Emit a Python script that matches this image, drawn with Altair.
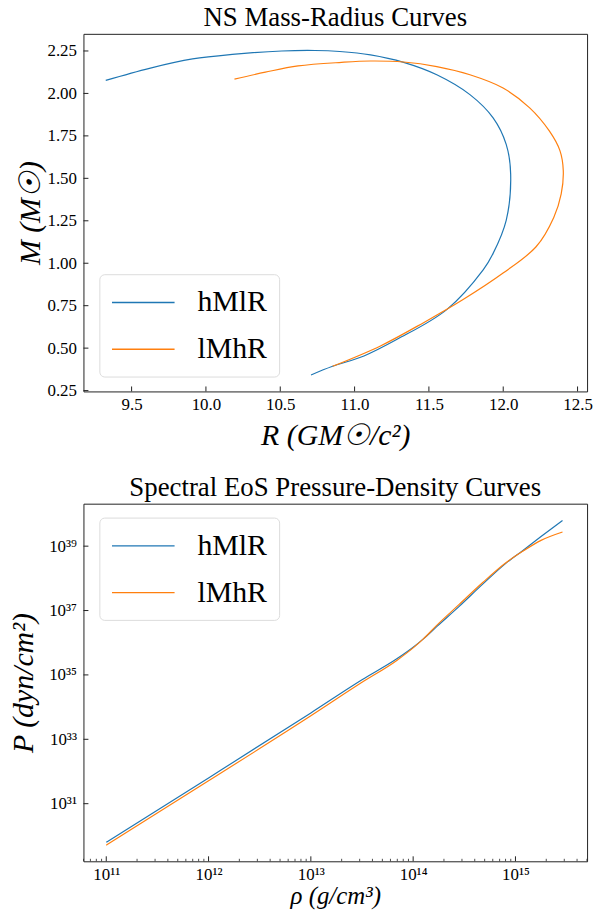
import altair as alt
import pandas as pd

FONT = "Liberation Serif"
series_names = ["hMlR", "lMhR"]
series_colors = ["#1f77b4", "#ff7f0e"]

# ---- Mass-radius curves (R in GM_sun/c^2, M in M_sun)
hMlR_R = [9.326, 9.62, 9.91, 10.177, 10.51, 10.733, 10.90, 11.107, 11.33, 11.553,
          11.776, 11.932, 12.02, 12.05, 12.02, 11.932, 11.865, 11.62, 11.286,
          11.063, 10.852, 10.707]
hMlR_M = [2.077, 2.148, 2.203, 2.230, 2.250, 2.253, 2.247, 2.227, 2.183, 2.110,
          1.993, 1.856, 1.700, 1.526, 1.253, 1.058, 0.961, 0.727, 0.552,
          0.454, 0.393, 0.342]
lMhR_R = [10.192, 10.40, 10.62, 10.912, 11.107, 11.33, 11.553, 11.776, 11.999, 12.178,
          12.31, 12.382, 12.404, 12.39, 12.34, 12.221, 11.999, 11.73, 11.464,
          11.174, 10.852]
lMhR_M = [2.084, 2.125, 2.162, 2.183, 2.191, 2.185, 2.158, 2.110, 2.032, 1.915,
          1.779, 1.662, 1.545, 1.409, 1.270, 1.097, 0.942, 0.786, 0.650,
          0.513, 0.393]

# ---- Pressure-density curves (log10 values)
hMlR_logrho = [11.0, 12.0, 13.0, 13.5, 13.84, 14.0, 14.1, 14.23, 14.45, 14.68, 14.9, 15.07, 15.25, 15.46]
hMlR_logP = [29.80, 31.80, 33.82, 34.85, 35.50, 35.86, 36.12, 36.50, 37.13, 37.82, 38.45, 38.86, 39.30, 39.80]
lMhR_logrho = [11.0, 12.0, 13.0, 13.5, 13.84, 14.0, 14.1, 14.23, 14.45, 14.68, 14.9, 15.07, 15.25, 15.46]
lMhR_logP = [29.71, 31.71, 33.73, 34.77, 35.45, 35.84, 36.12, 36.54, 37.19, 37.87, 38.47, 38.84, 39.18, 39.44]

# axis ticks
mr_x_ticks = [9.5, 10.0, 10.5, 11.0, 11.5, 12.0, 12.5]
mr_y_ticks = [0.25, 0.5, 0.75, 1.0, 1.25, 1.5, 1.75, 2.0, 2.25]
rho_major_exp = [11, 12, 13, 14, 15]
p_major_exp = [31, 33, 35, 37, 39]
sup_map = {"0": "⁰", "1": "¹", "2": "²", "3": "³", "4": "⁴", "5": "⁵", "6": "⁶", "7": "⁷", "8": "⁸", "9": "⁹"}

W, H = 507, 360

def sup(n):
    return "10" + "".join(sup_map[c] for c in str(n))

def label_expr(exps):
    expr = "''"
    for e in reversed(exps):
        expr = f"round(log(datum.value)/LN10) == {e} ? '{sup(e)}' : ({expr})"
    return expr

mr_rows = []
for name, Rs, Ms in [("hMlR", hMlR_R, hMlR_M), ("lMhR", lMhR_R, lMhR_M)]:
    for i, (r, m) in enumerate(zip(Rs, Ms)):
        mr_rows.append({"series": name, "R": r, "M": m, "i": i})
mr_df = pd.DataFrame(mr_rows)

pr_rows = []
for name, xs, ys in [("hMlR", hMlR_logrho, hMlR_logP), ("lMhR", lMhR_logrho, lMhR_logP)]:
    for i, (x, y) in enumerate(zip(xs, ys)):
        pr_rows.append({"series": name, "rho": 10 ** x, "P": 10 ** y, "i": i})
pr_df = pd.DataFrame(pr_rows)

color_scale = alt.Scale(domain=series_names, range=series_colors)

SYM = 992  # sqrt -> 31.5 px, path spans twice that

def legend(y):
    return alt.Legend(
        orient="none", legendX=16, legendY=y, title=None,
        symbolType="M-2,0H2", symbolSize=SYM, symbolStrokeWidth=1.4,
        symbolOffset=15.75,
        labelFont=FONT, labelFontSize=30, labelColor="black",
        padding=12, strokeColor="#dcdcdc", fillColor="white", cornerRadius=5,
        labelOffset=38, rowPadding=15,
    )

def xaxis(values, title, ty, fs, **kw):
    return alt.Axis(values=values, title=title, titleX=W / 2, titleY=ty,
                    titleBaseline="alphabetic", titleFontSize=fs, labelPadding=5, **kw)

def yaxis(values, title, tx, **kw):
    return alt.Axis(values=values, title=title, titleX=tx, titleY=H / 2,
                    titleBaseline="alphabetic", labelPadding=7, **kw)

# ---------------- top panel
mr_xs = alt.Scale(domain=[9.176, 12.564], nice=False, zero=False)
mr_ys = alt.Scale(domain=[0.245, 2.351], nice=False, zero=False)
mr_xa = xaxis(mr_x_ticks, "R (GM☉/c²)", 53, 30, format=".1f")
mr_ya = yaxis(mr_y_ticks, "M (M☉)", -44, format=".2f")

mr_lines = alt.Chart(mr_df).mark_line(strokeWidth=1.2, interpolate="catmull-rom").encode(
    x=alt.X("R:Q", scale=mr_xs, axis=mr_xa),
    y=alt.Y("M:Q", scale=mr_ys, axis=mr_ya),
    color=alt.Color("series:N", scale=color_scale, legend=legend(242)),
    order="i:Q",
)
mr_xt = alt.Chart(pd.DataFrame({"t": mr_x_ticks})).mark_rule(color="#222", strokeWidth=1).encode(
    x=alt.X("t:Q", scale=mr_xs, axis=mr_xa), y=alt.value(H), y2=alt.value(H - 5))
mr_yt = alt.Chart(pd.DataFrame({"t": mr_y_ticks})).mark_rule(color="#222", strokeWidth=1).encode(
    y=alt.Y("t:Q", scale=mr_ys, axis=mr_ya), x=alt.value(0), x2=alt.value(5))

top = alt.layer(mr_lines, mr_xt, mr_yt).properties(
    width=W, height=H, title=alt.TitleParams("NS Mass-Radius Curves"))

# ---------------- bottom panel
rho_xs = alt.Scale(type="log", domain=[10 ** 10.777, 10 ** 15.70], nice=False)
p_ys = alt.Scale(type="log", domain=[10 ** 29.21, 10 ** 40.32], nice=False)
rho_major = [10.0 ** e for e in rho_major_exp]
rho_minor = [m * 10.0 ** e for e in range(10, 16) for m in range(2, 10)
             if 10 ** 10.777 < m * 10.0 ** e < 10 ** 15.70]
p_major = [10.0 ** e for e in p_major_exp]
pr_xa = xaxis(rho_major, "ρ (g/cm³)", 43, 25, labelExpr=label_expr(rho_major_exp))
pr_ya = yaxis(p_major, "P (dyn/cm²)", -51, labelExpr=label_expr(p_major_exp))

pr_lines = alt.Chart(pr_df).mark_line(strokeWidth=1.2, interpolate="monotone").encode(
    x=alt.X("rho:Q", scale=rho_xs, axis=pr_xa),
    y=alt.Y("P:Q", scale=p_ys, axis=pr_ya),
    color=alt.Color("series:N", scale=color_scale, legend=legend(14)),
    order="i:Q",
)
pr_xt = alt.Chart(pd.DataFrame({"t": rho_major})).mark_rule(color="#222", strokeWidth=1).encode(
    x=alt.X("t:Q", scale=rho_xs, axis=pr_xa), y=alt.value(H), y2=alt.value(H - 5))
pr_xm = alt.Chart(pd.DataFrame({"t": rho_minor})).mark_rule(color="#222", strokeWidth=0.8).encode(
    x=alt.X("t:Q", scale=rho_xs, axis=pr_xa), y=alt.value(H), y2=alt.value(H - 2.5))
pr_yt = alt.Chart(pd.DataFrame({"t": p_major})).mark_rule(color="#222", strokeWidth=1).encode(
    y=alt.Y("t:Q", scale=p_ys, axis=pr_ya), x=alt.value(0), x2=alt.value(5))

bottom = alt.layer(pr_lines, pr_xt, pr_xm, pr_yt).properties(
    width=W, height=H, title=alt.TitleParams("Spectral EoS Pressure-Density Curves"))

chart = alt.vconcat(top, bottom, spacing=22).resolve_scale(
    color="independent", x="independent", y="independent"
).properties(
    padding={"left": 8, "top": 0, "right": 4, "bottom": 0},
    background="white",
).configure_view(
    stroke="#222", strokeWidth=1
).configure_axis(
    ticks=False, domain=False, grid=False,
    labelFont=FONT, labelFontSize=17, labelColor="black",
    titleFont=FONT, titleFontSize=30, titleFontStyle="italic", titleFontWeight="normal",
    titleColor="black",
).configure_title(
    font=FONT, fontSize=27, fontWeight="normal", color="black", offset=2,
)

chart.save("out.html", embed_options={"renderer": "svg", "actions": False})
